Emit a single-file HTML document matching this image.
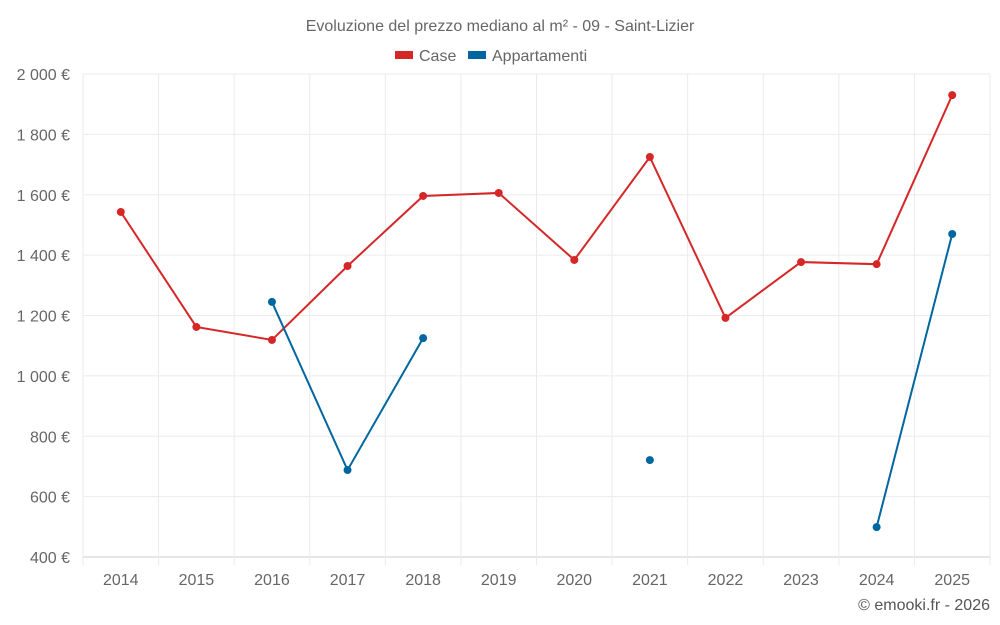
<!DOCTYPE html>
<html><head><meta charset="utf-8"><style>
body{margin:0;background:#fff;}
svg{display:block;font-family:"Liberation Sans",sans-serif;}
</style></head><body>
<svg id="chart" width="1000" height="625">
<text x="500" y="31" text-anchor="middle" font-size="16" fill="#666">Evoluzione del prezzo mediano al m² - 09 - Saint-Lizier</text>
<g>
<g><rect x="395" y="51" width="18" height="8" fill="#d62728"/><text x="419" y="61" font-size="16" fill="#666">Case</text></g>
<g><rect x="468" y="51" width="18" height="8" fill="#0066a0"/><text x="492" y="61" font-size="16" fill="#666">Appartamenti</text></g>
</g>
<g id="grid"></g><g id="axes"></g><g id="series"></g>
<text x="990" y="610" text-anchor="end" font-size="16" fill="#555">© emooki.fr - 2026</text>
</svg>
<script>
const years=[2014,2015,2016,2017,2018,2019,2020,2021,2022,2023,2024,2025];
const caseValues=[1543,1162,1119,1364,1596,1606,1384,1725,1192,1377,1370,1930];
const apptValues=[null,null,1245,688,1125,null,null,721,null,null,499,1470];
const yTicks=[400,600,800,1000,1200,1400,1600,1800,2000];
const L=83,R=990,T=74,B=557,yMin=400,yMax=2000;
const ns="http://www.w3.org/2000/svg";
const step=(R-L)/years.length;
const xs=i=>L+step*(i+0.5);
const ys=v=>B-(v-yMin)/(yMax-yMin)*(B-T);
function mk(t,a,p){const e=document.createElementNS(ns,t);for(const k in a)e.setAttribute(k,a[k]);p.appendChild(e);return e;}
const grid=document.getElementById('grid'),axes=document.getElementById('axes'),ser=document.getElementById('series');
yTicks.forEach(v=>{
 const l=mk('line',{x1:L,x2:R,y1:ys(v),y2:ys(v),stroke:v===yMin?'#ccc':'#ebebeb'},grid);
 
 
 const t=mk('text',{x:70,y:ys(v)+6,'text-anchor':'end','font-size':16,fill:'#666'},axes);
 t.textContent=(v>=1000?Math.floor(v/1000)+' '+String(v%1000).padStart(3,'0'):v)+' €';
 
 
});
for(let i=0;i<=years.length;i++){
 const x=L+step*i;
 const l=mk('line',{x1:x,x2:x,y1:T,y2:B+8,stroke:'#ebebeb'},grid);
 
 
}
years.forEach((y,i)=>{
 const t=mk('text',{x:xs(i),y:585,'text-anchor':'middle','font-size':16,fill:'#666'},axes);
 t.textContent=y;
 
 
});
function draw(vals,color,name){
 let seg=[];
 const segs=[];
 vals.forEach((v,i)=>{if(v==null){if(seg.length)segs.push(seg);seg=[];}else seg.push([xs(i),ys(v)]);});
 if(seg.length)segs.push(seg);
 segs.forEach(s=>{if(s.length>1){
  const p=mk('polyline',{points:s.map(q=>q.join(',')).join(' '),fill:'none',stroke:color,'stroke-width':2},ser);
  
  
 }});
 vals.forEach((v,i)=>{if(v==null)return;
  const c=mk('circle',{cx:xs(i),cy:ys(v),r:4,fill:color},ser);
  
  
 });
}
draw(caseValues,'#d62728','case');
draw(apptValues,'#0066a0','appartamenti');
</script>
</body></html>
